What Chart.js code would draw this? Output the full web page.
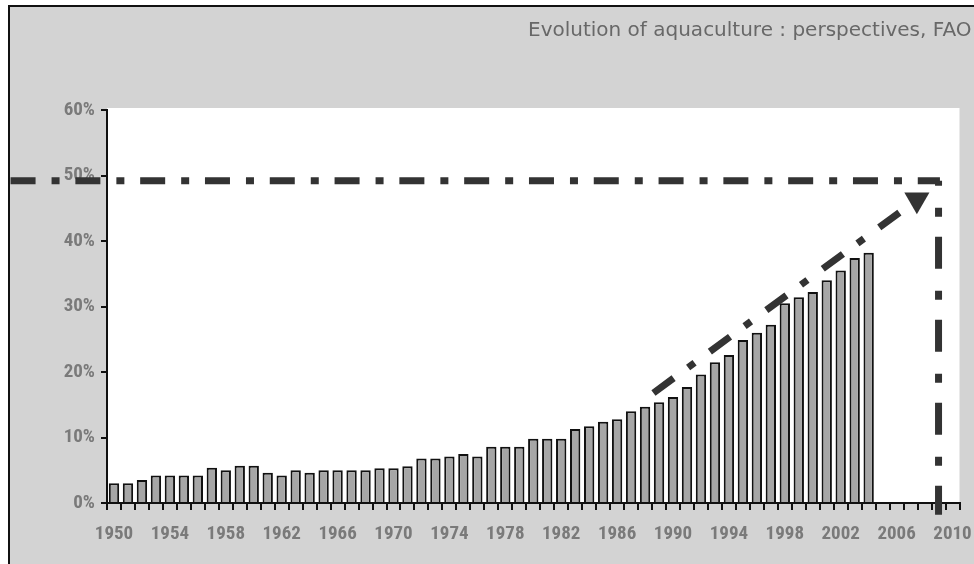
<!DOCTYPE html>
<html>
<head>
<meta charset="utf-8">
<script src="https://cdn.jsdelivr.net/npm/chart.js@4.4.1/dist/chart.umd.min.js"></script>
<style>
  html, body { margin: 0; padding: 0; background: #fff; }
  #wrap { width: 974px; height: 564px; position: relative; }
</style>
</head>
<body>
<div id="wrap"><canvas id="chart" width="974" height="564"></canvas></div>
<script>
// Years on the category axis
const years = [
  '1950','1951','1952','1953','1954','1955','1956','1957','1958','1959',
  '1960','1961','1962','1963','1964','1965','1966','1967','1968','1969',
  '1970','1971','1972','1973','1974','1975','1976','1977','1978','1979',
  '1980','1981','1982','1983','1984','1985','1986','1987','1988','1989',
  '1990','1991','1992','1993','1994','1995','1996','1997','1998','1999',
  '2000','2001','2002','2003','2004','2005','2006','2007','2008','2009',
  '2010'
];

// Years that carry a tick label
const labelledYears = ['1950','1954','1958','1962','1966','1970','1974','1978',
  '1982','1986','1990','1994','1998','2002','2006','2010'];

// Aquaculture share of fish supply (%), by year
const aquacultureShare = [
  3.0, 3.0, 3.5, 4.2, 4.2, 4.2, 4.2, 5.4, 5.0, 5.7,
  5.7, 4.6, 4.2, 5.0, 4.6, 5.0, 5.0, 5.0, 5.0, 5.3,
  5.3, 5.6, 6.8, 6.8, 7.1, 7.5, 7.1, 8.6, 8.6, 8.6,
  9.8, 9.8, 9.8, 11.3, 11.7, 12.4, 12.8, 14.0, 14.7, 15.4,
  16.2, 17.7, 19.6, 21.5, 22.6, 24.9, 26.0, 27.2, 30.5, 31.4,
  32.2, 34.0, 35.5, 37.4, 38.2, null, null, null, null, null,
  null
];

// Y axis ticks (%)
const shareTicks = [0, 10, 20, 30, 40, 50, 60];

// Projection guides: target level, target year and the trend arrow
const targetLevel = [49.2, 49.2];
const targetLevelYears = [1942.6, 2009.1];
const targetYear = [2009, 2009];
const targetYearLevels = [49.2, -1.8];
const trendYears = [1988.6, 2007.45];
const trendLevels = [16.8, 46.3];

const titleText = 'Evolution of aquaculture : perspectives, FAO';

const labelFont = '"Roboto Condensed", "DejaVu Sans Condensed", sans-serif';
const guideColor = '#333333';

const backdrop = {
  id: 'backdrop',
  beforeDraw(chart) {
    const { ctx, chartArea: a, width, height } = chart;
    ctx.save();
    ctx.fillStyle = '#ffffff';
    ctx.fillRect(0, 0, width, height);
    ctx.fillStyle = '#d3d3d3';
    ctx.fillRect(8, 5, width - 8, height - 5);
    ctx.fillStyle = '#111111';
    ctx.fillRect(8, 5, width - 8, 2);
    ctx.fillRect(8, 5, 2, height - 5);
    ctx.fillStyle = '#ffffff';
    ctx.fillRect(a.left, a.top - 2, a.right - a.left, a.bottom - a.top + 2);
    ctx.fillStyle = '#686868';
    ctx.font = '20px "DejaVu Sans", sans-serif';
    ctx.textBaseline = 'alphabetic';
    ctx.textAlign = 'left';
    ctx.fillText(titleText, 528, 36);
    ctx.restore();
  }
};

const toPoints = (xs, ys) => xs.map((x, i) => ({ x, y: ys[i] }));

const guide = (xs, ys, dash, extra) => Object.assign({
  type: 'line',
  xAxisID: 'xt',
  data: toPoints(xs, ys),
  borderColor: guideColor,
  borderWidth: 7,
  borderDash: dash,
  borderCapStyle: 'butt',
  pointRadius: 0,
  tension: 0,
  clip: false,
  order: 1
}, extra || {});

new Chart(document.getElementById('chart'), {
  type: 'bar',
  data: {
    labels: years,
    datasets: [
      {
        type: 'bar',
        data: aquacultureShare,
        backgroundColor: '#a6a6a6',
        borderColor: '#111111',
        borderWidth: 2,
        grouped: false,
        barPercentage: 0.74,
        categoryPercentage: 1.0,
        order: 2
      },
      guide(targetLevelYears, targetLevel, [25, 16, 8, 15.8]),
      guide(targetYear, targetYearLevels, [32, 22, 9, 20], { borderDashOffset: 27 }),
      guide(trendYears, trendLevels, [25, 18, 8, 19], {
        pointRadius: [0, 14.5],
        pointStyle: 'triangle',
        pointRotation: 180,
        pointBackgroundColor: guideColor,
        pointBorderWidth: 0,
        order: 0
      })
    ]
  },
  options: {
    responsive: false,
    animation: false,
    devicePixelRatio: 1,
    layout: { padding: { top: 110, right: 11, left: 0, bottom: 0 } },
    plugins: {
      legend: { display: false },
      tooltip: { enabled: false },
      title: { display: false }
    },
    scales: {
      x: {
        type: 'category',
        offset: true,
        grid: {
          offset: true,
          drawOnChartArea: false,
          drawTicks: true,
          tickLength: 7,
          color: '#111111',
          lineWidth: 2
        },
        border: { color: '#111111', width: 2 },
        ticks: {
          autoSkip: false,
          maxRotation: 0,
          minRotation: 0,
          padding: 13,
          color: '#7a7a7a',
          font: { family: labelFont, size: 19, weight: 'bold' },
          callback: (v, i) => labelledYears.includes(years[i]) ? years[i] : ''
        },
        afterFit: s => {
          s.height = 61;
          s.paddingLeft = 0;
          s.paddingRight = 0;
        }
      },
      xt: {
        type: 'linear',
        display: false,
        offset: false,
        grid: { offset: false },
        min: 1949.5,
        max: 2010.5
      },
      y: {
        min: 0,
        max: 60,
        afterBuildTicks: s => { s.ticks = shareTicks.map(v => ({ value: v })); },
        grid: {
          drawOnChartArea: false,
          drawTicks: true,
          tickLength: 6,
          color: '#111111',
          lineWidth: 2
        },
        border: { color: '#111111', width: 2 },
        ticks: {
          padding: 6,
          color: '#7a7a7a',
          font: { family: labelFont, size: 19, weight: 'bold' },
          callback: v => v + '%'
        },
        afterFit: s => { s.width = 107; }
      }
    }
  },
  plugins: [backdrop]
});
</script>
</body>
</html>
